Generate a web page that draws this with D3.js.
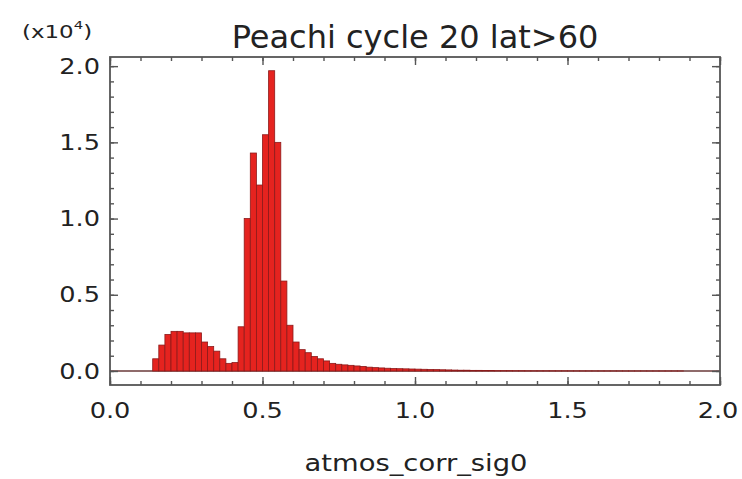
<!DOCTYPE html>
<html>
<head>
<meta charset="utf-8">
<script src="https://cdn.jsdelivr.net/npm/d3@7"></script>
<style>
  body { margin: 0; background: #fff; }
  text { font-family: "DejaVu Sans", sans-serif; fill: #222; }
</style>
</head>
<body>
<svg width="742" height="479"></svg>
<script>
// histogram of atmos_corr_sig0, counts in units of 1e4, bins of 0.02 from 0 to 2
const binWidth = 0.02;
const counts = [
  0, 0, 0, 0, 0, 0, 0,
  0.08, 0.17, 0.24, 0.26, 0.26, 0.25, 0.25, 0.25, 0.19, 0.16, 0.13, 0.08, 0.05, 0.055,
  0.29, 1.00, 1.43, 1.22, 1.55, 1.97, 1.50, 0.59, 0.30, 0.19, 0.14,
  0.12, 0.095, 0.08, 0.066, 0.05, 0.044, 0.04, 0.037, 0.033, 0.03,
  0.025, 0.022, 0.02, 0.018, 0.016, 0.015, 0.014, 0.013, 0.012, 0.011,
  0.01, 0.009, 0.008, 0.007, 0.006, 0.005, 0.005, 0.004, 0.004, 0.003,
  0.003, 0.002, 0.002,
  0.002, 0.0015, 0.0015, 0.001, 0.001, 0.001, 0.001, 0.001, 0.0008, 0.0008,
  0.0006, 0.0006, 0.0005, 0.0005, 0.0004, 0.0004, 0.0003, 0.0003, 0.0003, 0.0002,
  0.0002, 0.0002, 0.0002, 0.0001, 0.0001, 0.0001, 0.0001, 0.0001, 0.0001, 0,
  0, 0, 0, 0, 0
];
const xMajor = [0, 0.5, 1.0, 1.5, 2.0];
const yMajor = [0, 0.5, 1.0, 1.5, 2.0];
const title = "Peachi cycle 20 lat>60";
const xLabel = "atmos_corr_sig0";

const svg = d3.select("svg");
const margin = { top: 57, right: 22, bottom: 94, left: 110 };
const width = +svg.attr("width") - margin.left - margin.right;
const height = +svg.attr("height") - margin.top - margin.bottom;
const g = svg.append("g").attr("transform", `translate(${margin.left},${margin.top})`);

const x = d3.scaleLinear().domain([0, 2]).range([0, width]);
const y = d3.scaleLinear().domain([-0.092, 2.06]).range([height, 0]);
const fmt = d3.format(".1f");
const stretch = 1.22; // labels in the original are drawn wide

const bins = counts.map((v, i) => ({ x0: i * binWidth, x1: (i + 1) * binWidth, v: v }));

// zero line
g.append("line")
    .attr("x1", x(0)).attr("x2", x(2))
    .attr("y1", y(0)).attr("y2", y(0))
    .attr("stroke", "#6a3a3a")
    .attr("stroke-width", 1.3);

g.selectAll(".bar")
    .data(bins.filter(d => d.v > 0))
    .enter().append("rect")
    .attr("class", "bar")
    .attr("x", d => x(d.x0))
    .attr("width", d => x(d.x1) - x(d.x0))
    .attr("y", d => y(d.v))
    .attr("height", d => y(0) - y(d.v))
    .attr("fill", "#e5231f")
    .attr("stroke", "#8c1a1a")
    .attr("stroke-width", 0.8);

// axes, ticks pointing inward on all four sides
const minorX = d3.range(0, 2.0001, 0.1);
const minorY = d3.range(0, 2.0001, 0.1);
const axisColor = "#555";

function styleAxis(sel) {
    sel.select(".domain").remove();
    sel.selectAll(".tick line").attr("stroke", axisColor).attr("stroke-width", 1.4);
}

g.append("g").attr("transform", `translate(0,${height})`)
    .call(d3.axisBottom(x).tickValues(minorX).tickSize(-4).tickFormat("")).call(styleAxis);
g.append("g").attr("transform", `translate(0,${height})`)
    .call(d3.axisBottom(x).tickValues(xMajor).tickSize(-8).tickFormat("")).call(styleAxis);
g.append("g")
    .call(d3.axisTop(x).tickValues(minorX).tickSize(-4).tickFormat("")).call(styleAxis);
g.append("g")
    .call(d3.axisTop(x).tickValues(xMajor).tickSize(-8).tickFormat("")).call(styleAxis);

g.append("g")
    .call(d3.axisLeft(y).tickValues(minorY).tickSize(-4).tickFormat("")).call(styleAxis);
g.append("g")
    .call(d3.axisLeft(y).tickValues(yMajor).tickSize(-8).tickFormat("")).call(styleAxis);
g.append("g").attr("transform", `translate(${width},0)`)
    .call(d3.axisRight(y).tickValues(minorY).tickSize(-4).tickFormat("")).call(styleAxis);
g.append("g").attr("transform", `translate(${width},0)`)
    .call(d3.axisRight(y).tickValues(yMajor).tickSize(-8).tickFormat("")).call(styleAxis);

// tick labels, stretched horizontally
g.selectAll(".xlab")
    .data(xMajor)
    .enter().append("text")
    .attr("class", "xlab")
    .attr("transform", d => `translate(${x(d) - (d === 2 ? 2 : 0)},${height + 33}) scale(${stretch},1)`)
    .attr("text-anchor", "middle")
    .attr("font-size", "21px")
    .text(fmt);

g.selectAll(".ylab")
    .data(yMajor)
    .enter().append("text")
    .attr("class", "ylab")
    .attr("transform", d => `translate(-10,${y(d)}) scale(${stretch},1)`)
    .attr("text-anchor", "end")
    .attr("dy", "0.36em")
    .attr("font-size", "21px")
    .text(fmt);

// frame
g.append("rect")
    .attr("width", width).attr("height", height)
    .attr("fill", "none")
    .attr("stroke", axisColor)
    .attr("stroke-width", 1.8);

// title, labels
svg.append("text")
    .attr("x", margin.left + width / 2).attr("y", 48)
    .attr("text-anchor", "middle")
    .attr("font-size", "32px")
    .attr("fill", "#333")
    .text(title);

svg.append("text")
    .attr("transform", `translate(${margin.left + width / 2 + 1},471) scale(1.19,1)`)
    .attr("text-anchor", "middle")
    .attr("font-size", "23px")
    .attr("fill", "#333")
    .text(xLabel);

const mult = svg.append("text")
    .attr("transform", "translate(22,38) scale(1.35,1)")
    .attr("font-size", "17px");
mult.append("tspan").text("(x10");
mult.append("tspan").attr("dy", -9).attr("font-size", "11px").text("4");
mult.append("tspan").attr("dy", 9).text(")");
</script>
</body>
</html>
